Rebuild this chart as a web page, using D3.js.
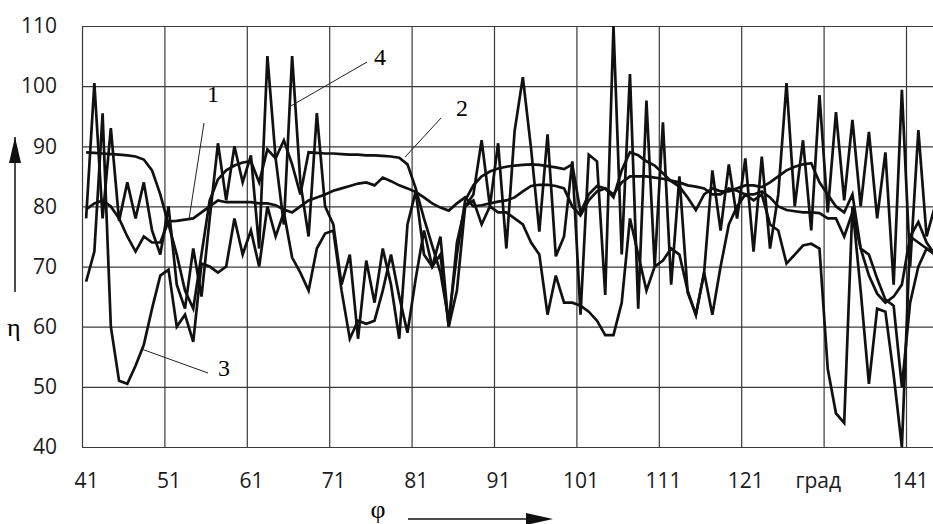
<!DOCTYPE html>
<html>
<head>
<meta charset="utf-8">
<script src="https://cdn.jsdelivr.net/npm/d3@7"></script>
<style>
  body { margin:0; background:#fff; }
  svg { display:block; }
</style>
</head>
<body>
<svg id="drawing_region"></svg>
<script>
// angle phi, degrees (one point per degree)
const phi = d3.range(41, 145);

const xTicks = [41, 51, 61, 71, 81, 91, 101, 111, 121, 131, 141];
const yTicks = [40, 50, 60, 70, 80, 90, 100, 110];

// curve 1
const eta1 = [
  79.5, 80.5, 81, 80, 78, 75, 72.5, 75, 74, 74,
  77.5, 77.6, 77.8, 78, 79, 80, 81, 80.7, 80.7, 80.7,
  80.7, 80.5, 80.5, 80.2, 79.5, 79, 80, 81, 81.5, 82,
  82.6, 83, 83.4, 83.8, 84, 83.5, 84.8, 84.2, 83.5, 83,
  82.4, 81.5, 80.5, 79.8, 79.3, 80.5, 81.5, 80, 80.2, 80.5,
  80.8, 81, 81.5, 82.5, 83.4, 83.6, 83.6, 83.4, 83, 80,
  78.5, 81, 82.5, 83, 82, 84, 85, 85, 85, 84.8,
  84.6, 84.3, 84, 83.5, 83.3, 83, 82, 82, 83, 82.6,
  82, 82, 82.5, 81.5, 80, 79.4, 79.2, 79, 79, 78.9,
  78, 78, 75, 79, 73, 72, 68, 64.5, 63.5, 50,
  64, 70, 73, 72
];

// curve 2
const eta2 = [
  89, 88.9, 88.8, 88.7, 88.6, 88.5, 88.3, 87.8, 86, 82,
  77, 72, 66, 63, 72, 81, 84.5, 86, 86.8, 87.3,
  87.5, 84, 89.5, 88, 91, 87, 82, 89, 88.9, 88.8,
  88.8, 88.7, 88.6, 88.6, 88.5, 88.5, 88.4, 88.3, 88.1, 87,
  83, 78, 73.5, 69, 61, 72, 81, 83.5, 85, 85.8,
  86.3, 86.6, 86.8, 86.9, 87, 86.9, 86.7, 86.5, 86.2, 87,
  79, 82, 83.4, 83, 81.5, 86, 89, 88.5, 87.5, 86.8,
  85.5, 84.2, 83.3, 81.5, 79.4, 82, 83, 82.5, 82.5, 83,
  83.5, 83.5, 83.2, 84, 85, 86, 86.6, 87, 87.2, 84,
  82, 80, 79, 82, 73, 68.5, 65.5, 64, 65, 67,
  75, 74, 73, 72
];

// curve 3
const eta3 = [
  67.5, 72.5, 95.5, 60, 51, 50.5, 53.5, 57, 63, 68.5,
  69.5, 60, 62, 57.5, 70.5, 70, 69, 70, 78, 72,
  76, 70, 80, 75, 79, 71.5, 69, 66, 73, 75.5,
  76, 66, 58, 61, 60.5, 61, 66, 72, 65, 59,
  68, 76, 70, 72, 60, 66, 80, 81, 77, 80,
  79, 79, 78, 77, 74, 72, 62, 68.5, 64, 64,
  63.5, 62.5, 61, 58.6, 58.6, 64, 78, 72, 66, 70,
  71, 73, 72, 66, 62, 69, 62, 70, 77, 80,
  82, 81, 82, 77, 76, 70.5, 72, 73.5, 73.8, 73,
  53, 45.6, 44, 80, 66, 50.5, 63, 62.5, 52, 40,
  75, 77.4, 74, 72
];

// curve 4
const eta4 = [
  78, 100.5, 78, 93, 77.6, 84, 78, 84, 76, 72,
  80, 67, 63, 73, 65, 78, 90.5, 81, 90, 84,
  88.5, 73, 105, 88, 77, 105, 84, 75, 95.5, 80,
  77, 67, 72, 58, 71, 64, 73, 67, 58, 77,
  82.5, 72, 70, 75, 60, 74, 80, 82, 91, 80,
  90.5, 73, 92.5, 101.5, 89.6, 75.8, 92, 71.7, 75, 87.5,
  62, 88.6, 87.5, 65.3, 110, 72, 102, 63, 97.6, 70,
  94, 67, 85, 65.7, 62, 69, 86, 76, 87, 78,
  88, 72.5, 88.3, 73, 82, 100.5, 80, 91, 76, 98.5,
  79, 95.7, 81, 94.4, 80, 92.4, 78, 89, 67, 99.4,
  70, 92.7, 75, 80
];

const series = [eta1, eta2, eta3, eta4];

// curve labels: text, anchor point on curve (phi, eta) and text position
const curveLabels = [
  {name: '1', phi: 53.5, eta: 78, tx: 213, ty: 102, lx: 204, ly: 123},
  {name: '2', phi: 79.7, eta: 88.2, tx: 462, ty: 116, lx: 441, ly: 118},
  {name: '3', phi: 47.7, eta: 56.3, tx: 224, ty: 376, lx: 208, ly: 373},
  {name: '4', phi: 65.6, eta: 96.5, tx: 380, ty: 65, lx: 367, ly: 62}
];

class LineChart {
    constructor( config ) {
        this.config = config;
        this.init();
    }

    init() {
        let self = this;
        self.svg = d3.select( self.config.parent )
            .attr('width', self.config.width)
            .attr('height', self.config.height);

        self.xscale = d3.scaleLinear()
            .domain([40.5, 140.5])
            .range([82, 906]);
        self.yscale = d3.scaleLinear()
            .domain([40, 110])
            .range([447, 26]);

        self.right = self.config.width + 5;
    }

    render() {
        let self = this;
        const x = self.xscale, y = self.yscale;

        // horizontal grid
        self.svg.append('g')
            .attr('transform', `translate(82,0)`)
            .call( d3.axisLeft(y).tickValues(yTicks).tickSize(-(self.right - 82)).tickFormat('') )
            .call( g => g.select('.domain').remove() )
            .selectAll('line')
            .attr('stroke', '#3a3a3a')
            .attr('stroke-width', 1.2);

        // vertical grid, between categories
        const xGrid = d3.range(0, 11).map(k => 40.5 + 10*k);
        self.svg.append('g')
            .attr('transform', `translate(0,447)`)
            .call( d3.axisBottom(x).tickValues(xGrid).tickSize(-421).tickFormat('') )
            .call( g => g.select('.domain').remove() )
            .selectAll('line')
            .attr('stroke', '#3a3a3a')
            .attr('stroke-width', 1.2);

        // tick labels
        self.svg.append('g')
            .attr('transform', `translate(82,0)`)
            .call( d3.axisLeft(y).tickValues(yTicks).tickSize(0).tickPadding(25) )
            .call( g => g.select('.domain').remove() )
            .selectAll('text')
            .attr('font-family', '"Open Sans", sans-serif')
            .attr('font-size', 21)
            .attr('fill', '#1a1a1a');

        self.svg.append('g')
            .attr('transform', `translate(0,447)`)
            .call( d3.axisBottom(x).tickValues(xTicks).tickSize(0).tickPadding(26)
                .tickFormat(d => d === 131 ? 'град' : d) )
            .call( g => g.select('.domain').remove() )
            .selectAll('text')
            .attr('font-family', '"Open Sans", sans-serif')
            .attr('font-size', 21)
            .attr('fill', '#1a1a1a')
            .attr('dx', d => d === 131 ? -10 : 0);

        // curves
        const line = d3.line()
            .x( (d, i) => x(phi[i]) )
            .y( d => y(d) );

        self.svg.append('g')
            .selectAll('path')
            .data(series)
            .join('path')
            .attr('d', line)
            .attr('fill', 'none')
            .attr('stroke', '#111')
            .attr('stroke-width', 2.7)
            .attr('stroke-linejoin', 'miter');

        // curve labels with leaders
        const lab = self.svg.append('g');
        lab.selectAll('line')
            .data(curveLabels)
            .join('line')
            .attr('x1', d => d.lx).attr('y1', d => d.ly)
            .attr('x2', d => x(d.phi)).attr('y2', d => y(d.eta))
            .attr('stroke', '#222')
            .attr('stroke-width', 1);
        lab.selectAll('text')
            .data(curveLabels)
            .join('text')
            .attr('x', d => d.tx).attr('y', d => d.ty)
            .attr('text-anchor', 'middle')
            .attr('font-family', '"Liberation Serif", serif')
            .attr('font-size', 24)
            .text(d => d.name);

        // axis names with arrows
        self.svg.append('line')
            .attr('x1', 15).attr('y1', 292)
            .attr('x2', 15).attr('y2', 137)
            .attr('stroke', '#111').attr('stroke-width', 1.5);
        self.svg.append('path')
            .attr('d', 'M9,163 L15,137 L21,163 Z')
            .attr('fill', '#111');
        self.svg.append('text')
            .attr('x', 7).attr('y', 336)
            .attr('font-family', '"Liberation Serif", serif')
            .attr('font-size', 26)
            .text('η');

        self.svg.append('line')
            .attr('x1', 408).attr('y1', 519)
            .attr('x2', 530).attr('y2', 519)
            .attr('stroke', '#111').attr('stroke-width', 1.5);
        self.svg.append('path')
            .attr('d', 'M526,513 L553,519 L526,525 Z')
            .attr('fill', '#111');
        self.svg.append('text')
            .attr('x', 378).attr('y', 518)
            .attr('text-anchor', 'middle')
            .attr('font-family', '"Liberation Serif", serif')
            .attr('font-size', 26)
            .text('φ');
    }
}

const chart = new LineChart({ parent: '#drawing_region', width: 933, height: 524 });
chart.render();
</script>
</body>
</html>
